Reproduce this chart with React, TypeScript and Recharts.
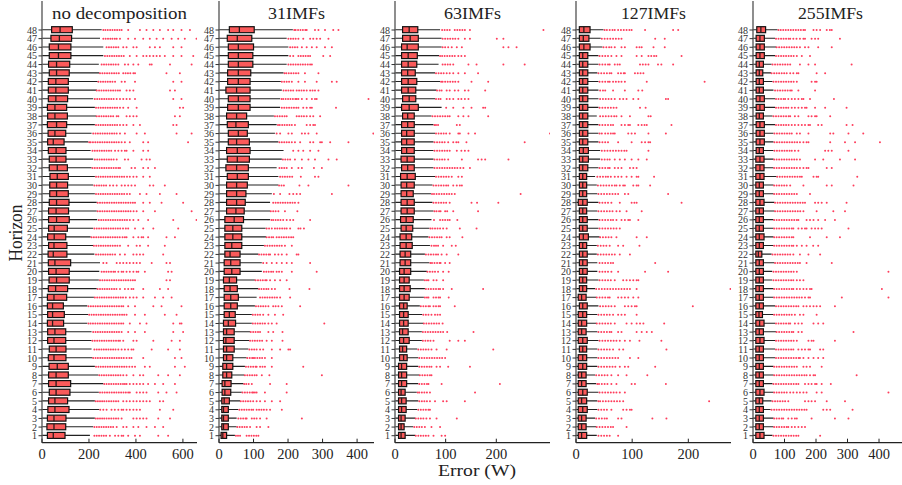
import { ComposedChart, Bar, Scatter, XAxis, YAxis } from 'recharts';

const SERIF = '"Liberation Serif", "Times New Roman", serif';

// horizons, listed top to bottom (48 down to 1); every per-row array below uses this order
const horizons = [
  48, 47, 46, 45, 44, 43, 42, 41, 40, 39, 38, 37, 36, 35, 34, 33,
  32, 31, 30, 29, 28, 27, 26, 25, 24, 23, 22, 21, 20, 19, 18, 17,
  16, 15, 14, 13, 12, 11, 10, 9, 8, 7, 6, 5, 4, 3, 2, 1,
];

// ---- no decomposition ----
const noDecQ1 = [41, 38, 31, 31, 28, 31, 27, 27, 27, 23, 24, 23, 26, 24, 27, 31, 31, 34, 33, 33, 31, 28, 28, 28, 24, 28, 26, 27, 28, 30, 27, 23, 23, 24, 23, 24, 24, 31, 27, 30, 28, 28, 31, 28, 25, 23, 21, 23];
const noDecMed = [77, 74, 70, 70, 62, 62, 59, 59, 59, 55, 55, 62, 55, 48, 60, 60, 65, 65, 62, 62, 62, 60, 62, 52, 52, 51, 48, 55, 60, 62, 58, 51, 45, 45, 45, 55, 51, 60, 51, 65, 60, 60, 60, 55, 55, 51, 51, 48];
const noDecQ3 = [129, 126, 123, 123, 118, 116, 112, 112, 109, 105, 108, 105, 101, 94, 102, 102, 108, 112, 109, 112, 115, 113, 116, 108, 101, 106, 106, 122, 116, 116, 109, 105, 91, 95, 92, 101, 101, 102, 102, 112, 112, 122, 119, 109, 115, 102, 101, 98];
const noDecHi = [254, 247, 261, 261, 242, 244, 237, 233, 218, 225, 230, 225, 211, 197, 207, 218, 211, 225, 218, 225, 233, 233, 235, 218, 207, 218, 223, 247, 244, 242, 233, 221, 193, 197, 193, 211, 211, 211, 215, 225, 240, 261, 242, 225, 244, 225, 218, 204];
const noDecOut = [
  [261, 270, 280, 290, 300, 310, 320, 330, 339, 367, 417, 445, 474, 502, 537, 559, 594, 630],
  [261, 271, 281, 291, 300, 310, 318, 332, 367, 396, 431, 459, 488, 516, 552, 580, 608, 658],
  [275, 285, 295, 305, 315, 325, 346, 360, 389, 403, 459, 481, 502, 559, 594],
  [268, 278, 288, 298, 308, 318, 328, 338, 348, 374, 403, 431, 445, 459, 474, 488, 502, 523, 559, 594, 644],
  [254, 264, 274, 284, 294, 304, 314, 325, 353, 367, 389, 410, 459, 467, 545, 637],
  [247, 257, 267, 277, 287, 297, 307, 317, 327, 346, 356, 366, 376, 389, 396, 530, 587],
  [240, 250, 260, 270, 280, 290, 300, 311, 339, 353, 396, 559, 594],
  [233, 243, 253, 263, 273, 283, 293, 303, 313, 323, 332, 360, 374, 389, 545, 566],
  [225, 235, 245, 255, 265, 275, 285, 295, 305, 318, 332, 346, 360, 374, 396, 559, 594],
  [230, 240, 250, 260, 270, 280, 290, 300, 310, 320, 332, 346, 367, 403, 587, 601],
  [233, 243, 253, 263, 273, 283, 293, 303, 318, 325, 360, 374, 389, 403, 566, 587],
  [230, 240, 250, 260, 270, 280, 290, 300, 310, 320, 332, 346, 360, 389, 417, 559, 573],
  [218, 228, 238, 248, 258, 268, 278, 288, 298, 308, 318, 332, 353, 403, 438, 573, 637],
  [201, 207, 217, 227, 237, 247, 257, 267, 277, 287, 297, 307, 317, 327, 339, 353, 374, 431, 452, 622],
  [215, 225, 235, 245, 255, 265, 275, 285, 295, 311, 325, 339, 353, 360, 389, 431, 452],
  [225, 235, 245, 255, 265, 275, 285, 295, 305, 318, 353, 367, 424, 445, 459],
  [215, 225, 235, 245, 255, 265, 275, 285, 295, 305, 315, 325, 332, 381, 396, 431, 452, 481],
  [230, 240, 250, 260, 270, 280, 290, 300, 310, 320, 330, 340, 350, 362, 374, 389, 403, 431, 459],
  [223, 233, 243, 253, 263, 273, 289, 303, 318, 339, 353, 367, 381, 396, 459, 474, 523],
  [230, 240, 250, 260, 270, 280, 290, 300, 310, 320, 330, 340, 350, 362, 374, 417, 445, 502, 573],
  [237, 247, 257, 267, 277, 287, 297, 307, 317, 327, 337, 347, 357, 367, 377, 387, 396, 431, 459, 509, 601],
  [237, 247, 257, 267, 277, 287, 297, 307, 317, 327, 337, 347, 357, 367, 377, 390, 403, 431, 481, 637],
  [242, 252, 262, 272, 282, 292, 302, 312, 322, 332, 342, 352, 362, 374, 389, 410, 452, 559, 658],
  [223, 233, 243, 253, 263, 273, 283, 293, 303, 313, 323, 333, 345, 357, 367, 396, 431, 474, 580],
  [211, 221, 231, 241, 251, 261, 271, 281, 291, 301, 311, 321, 331, 343, 353, 360, 389, 410, 424, 431, 452, 530, 566],
  [221, 231, 241, 251, 261, 271, 281, 291, 301, 311, 321, 332, 367, 403, 417, 452, 523],
  [230, 240, 250, 260, 270, 280, 290, 300, 311, 332, 353, 389, 403, 417, 431, 516],
  [261, 275, 318, 332, 346, 360, 374, 389, 403, 417, 467, 530, 545],
  [254, 264, 274, 284, 294, 304, 311, 325, 339, 346, 360, 374, 389, 403, 410, 438, 537, 552],
  [247, 257, 267, 277, 287, 297, 307, 317, 327, 337, 347, 357, 367, 377, 387, 396, 530, 545],
  [237, 247, 257, 267, 277, 287, 297, 307, 317, 332, 353, 367, 381, 389, 431, 502, 537],
  [225, 235, 245, 255, 265, 275, 285, 295, 305, 315, 325, 335, 345, 357, 374, 389, 403, 431, 481, 516, 552],
  [198, 208, 218, 228, 238, 248, 258, 268, 278, 288, 298, 308, 318, 328, 338, 346, 367, 396, 474, 509, 594],
  [201, 211, 221, 231, 241, 251, 261, 271, 281, 291, 301, 311, 321, 331, 341, 350, 360, 396, 438, 523, 573],
  [198, 207, 217, 227, 237, 247, 257, 267, 277, 287, 297, 307, 317, 327, 337, 346, 374, 417, 445, 559, 587, 594],
  [218, 228, 238, 248, 258, 268, 278, 288, 298, 308, 318, 328, 339, 367, 396, 438, 559, 601],
  [215, 225, 235, 245, 255, 265, 275, 285, 295, 305, 315, 325, 332, 346, 389, 403, 474, 552, 587],
  [223, 233, 243, 253, 263, 273, 283, 293, 303, 313, 325, 339, 353, 367, 381, 389, 467, 537, 587],
  [218, 228, 238, 248, 258, 268, 278, 288, 298, 308, 318, 328, 338, 348, 360, 372, 381, 431, 566, 594],
  [230, 240, 250, 260, 270, 280, 290, 300, 310, 320, 330, 340, 350, 360, 372, 384, 396, 438, 459, 566, 608],
  [244, 254, 264, 274, 284, 294, 304, 314, 324, 334, 346, 360, 389, 417, 431, 495, 537, 587],
  [265, 275, 285, 295, 305, 315, 325, 335, 345, 353, 360, 374, 389, 403, 417, 431, 452, 481, 516, 566],
  [247, 257, 267, 277, 287, 297, 307, 317, 327, 337, 347, 357, 367, 374, 403, 417, 431, 445, 495, 530, 573],
  [229, 238, 247, 256, 265, 275, 285, 295, 305, 315, 325, 346, 360, 374, 389, 403, 417, 431, 445, 459, 502, 516],
  [248, 261, 275, 296, 310, 325, 339, 346, 360, 374, 389, 403, 417, 502, 559],
  [229, 238, 247, 256, 265, 275, 285, 295, 305, 315, 325, 339, 389, 403, 417, 431, 445, 495, 545],
  [223, 233, 243, 253, 263, 273, 283, 293, 303, 318, 346, 360, 389, 410, 445, 481, 516],
  [223, 233, 243, 253, 263, 273, 289, 311, 325, 339, 346, 367, 396, 417, 495, 537],
];

// ---- 31 IMFs ----
const imf31Q1 = [30, 24, 27, 27, 27, 25, 25, 20, 27, 25, 22, 24, 27, 27, 22, 24, 20, 24, 22, 22, 22, 22, 17, 17, 17, 17, 17, 15, 15, 13, 15, 15, 15, 15, 13, 13, 13, 13, 13, 11, 11, 9, 9, 8, 8, 8, 8, 6];
const imf31Med = [59, 53, 56, 56, 56, 56, 56, 51, 56, 56, 51, 49, 56, 51, 53, 53, 51, 53, 51, 51, 51, 49, 44, 40, 40, 37, 32, 34, 37, 30, 32, 34, 34, 30, 27, 22, 20, 22, 22, 22, 22, 17, 17, 15, 13, 13, 13, 11];
const imf31Q3 = [102, 95, 100, 98, 98, 92, 90, 90, 90, 90, 80, 85, 82, 88, 90, 88, 85, 85, 82, 78, 76, 73, 71, 66, 66, 66, 61, 61, 61, 51, 53, 56, 53, 47, 48, 44, 44, 44, 40, 40, 37, 35, 34, 30, 27, 27, 27, 22];
const imf31Hi = [214, 196, 201, 201, 196, 187, 179, 182, 177, 177, 159, 167, 162, 172, 187, 182, 167, 172, 172, 153, 148, 148, 148, 135, 136, 130, 114, 124, 124, 104, 114, 109, 104, 95, 95, 90, 88, 85, 80, 75, 73, 71, 66, 61, 56, 51, 51, 46];
const imf31Out = [
  [218, 222, 229, 236, 243, 250, 254, 278, 288, 307, 331, 346],
  [201, 208, 215, 222, 230, 244, 264, 273, 283, 293, 317],
  [206, 213, 220, 227, 240, 254, 269, 283, 307, 327],
  [206, 215, 230, 237, 244, 251, 258, 264, 302, 322],
  [201, 208, 215, 222, 229, 236, 243, 250, 257, 264, 269],
  [190, 195, 202, 209, 216, 223, 230, 249, 288],
  [182, 189, 196, 203, 211, 230, 249, 283, 327, 341],
  [187, 194, 201, 208, 215, 225, 232, 239, 246, 254, 264, 271, 278, 288],
  [181, 186, 193, 200, 207, 214, 221, 225, 230, 240, 254, 269, 278, 283, 433],
  [182, 189, 196, 203, 210, 217, 224, 230, 244, 254, 264, 269, 339],
  [162, 169, 176, 183, 190, 196, 225, 232, 239, 246, 254, 264, 273, 293],
  [171, 176, 183, 190, 197, 204, 211, 220, 254, 264, 273, 278],
  [167, 177, 201, 211, 240, 249, 259, 283, 447],
  [175, 182, 189, 196, 203, 211, 220, 235, 264, 273, 293, 298, 322, 375],
  [215, 230, 244, 264, 288],
  [185, 192, 199, 206, 220, 240, 259, 278, 317, 341],
  [175, 182, 189, 196, 211, 230, 240, 275, 298],
  [177, 184, 191, 198, 205, 212, 237, 278, 288],
  [174, 181, 188, 233, 259, 375],
  [159, 177, 204, 215, 225, 235, 327],
  [157, 164, 171, 178, 185, 192, 199, 206, 213, 220, 230],
  [150, 157, 164, 172, 191, 227],
  [152, 157, 164, 171, 178, 186, 196, 206, 215, 264],
  [138, 145, 153, 162, 169, 176, 183, 190, 196, 206, 230, 236, 246],
  [138, 145, 152, 157, 167, 174, 181, 188, 195, 202, 209, 215],
  [133, 140, 147, 154, 161, 168, 175, 182, 191, 211],
  [116, 123, 130, 137, 144, 148, 162, 172, 182, 196, 225, 230],
  [128, 138, 153, 167, 182, 196, 211, 264],
  [130, 137, 144, 151, 157, 167, 174, 182, 211, 283],
  [106, 113, 120, 127, 134, 138, 148, 162, 177, 196],
  [116, 123, 130, 137, 143, 153, 162, 204, 262],
  [119, 126, 133, 140, 147, 154, 161, 168, 177, 206],
  [107, 114, 121, 128, 135, 143, 157, 164, 172, 182, 235],
  [98, 105, 112, 119, 128, 143, 162, 186],
  [98, 105, 112, 119, 126, 133, 143, 153, 167, 305],
  [92, 99, 106, 113, 119, 143, 157, 184],
  [90, 97, 104, 111, 118, 125, 138, 153, 184],
  [88, 95, 102, 109, 119, 128, 153, 177, 201, 206],
  [82, 89, 96, 99, 104, 111, 118, 125, 133, 153],
  [78, 85, 92, 99, 106, 109, 119, 126, 133, 153, 244],
  [75, 82, 89, 96, 103, 109, 124, 146, 298],
  [73, 79, 86, 95, 148, 196],
  [68, 75, 82, 89, 96, 99, 104, 109, 133, 196],
  [63, 70, 77, 84, 91, 99, 109, 119, 133, 153, 177],
  [59, 66, 73, 80, 87, 94, 99, 109, 116, 123, 130, 138, 148, 182],
  [56, 63, 70, 77, 80, 95, 102, 109, 119, 138, 240],
  [53, 60, 67, 74, 81, 90, 109, 119, 143],
  [49, 55, 61, 80, 87, 94, 101, 108, 114],
];

// ---- 63 IMFs ----
const imf63Q1 = [15, 15, 13, 13, 13, 13, 13, 13, 15, 13, 15, 13, 13, 13, 13, 12, 13, 11, 12, 12, 12, 12, 11, 12, 10, 10, 10, 10, 9, 9, 9, 9, 9, 9, 9, 9, 9, 9, 9, 7, 7, 7, 7, 7, 7, 7, 7, 7];
const imf63Med = [28, 30, 24, 26, 26, 25, 26, 26, 28, 28, 25, 25, 23, 23, 23, 24, 25, 24, 23, 23, 24, 24, 22, 22, 22, 22, 20, 20, 18, 18, 18, 18, 17, 17, 17, 15, 17, 15, 17, 13, 13, 13, 12, 13, 13, 12, 12, 12];
const imf63Q3 = [45, 46, 46, 44, 43, 40, 43, 41, 41, 46, 38, 38, 38, 38, 38, 38, 38, 40, 38, 36, 38, 38, 36, 35, 33, 34, 31, 31, 31, 28, 30, 28, 24, 26, 26, 26, 28, 23, 24, 23, 23, 23, 20, 22, 22, 20, 18, 20];
const imf63Hi = [89, 92, 92, 87, 86, 79, 89, 82, 79, 92, 72, 76, 79, 76, 76, 76, 76, 79, 74, 71, 74, 76, 72, 68, 66, 69, 59, 68, 63, 57, 59, 57, 49, 54, 56, 53, 53, 44, 46, 46, 48, 46, 43, 46, 44, 40, 36, 40];
const imf63Out = [
  [93, 98, 103, 108, 118, 123, 128, 133, 138, 148, 293],
  [94, 99, 104, 109, 114, 119, 125, 138, 148, 201, 214],
  [94, 99, 105, 112, 122, 132, 214, 224, 240],
  [89, 93, 98, 103, 108, 113, 118, 125, 131, 138],
  [94, 99, 104, 109, 115, 145, 161, 214, 256],
  [81, 86, 91, 96, 102, 108, 115, 125, 138, 164],
  [91, 94, 99, 104, 109, 114, 119, 125, 151, 184],
  [83, 88, 92, 102, 108, 118, 125, 138, 145, 178],
  [81, 86, 90, 102, 108, 115, 125, 131, 138, 145],
  [101, 115, 135, 151, 174, 178],
  [74, 79, 84, 89, 94, 99, 104, 108, 125, 135, 145, 184],
  [78, 81, 85, 122, 128],
  [81, 86, 91, 96, 101, 108, 125, 128, 145, 158, 306],
  [78, 83, 88, 93, 98, 105, 115, 121, 125, 141, 256],
  [78, 83, 88, 93, 98, 103, 108, 122, 131, 138, 145],
  [78, 83, 88, 93, 98, 105, 132, 164, 171, 178, 224],
  [78, 83, 88, 93, 98, 103, 108, 113, 118, 123, 129, 135, 148],
  [81, 86, 91, 96, 101, 106, 112, 125, 132],
  [76, 81, 86, 91, 96, 101, 105, 115, 122, 128, 132],
  [73, 77, 82, 87, 92, 97, 102, 107, 112, 118, 248],
  [76, 81, 86, 91, 96, 101, 108, 151, 162, 204],
  [78, 82, 87, 90, 99, 103, 115, 164],
  [77, 89, 94, 99, 104, 108, 123],
  [70, 74, 79, 84, 89, 95, 102, 128, 161],
  [68, 73, 78, 83, 88, 92, 102, 108, 133],
  [72, 77, 81, 85, 95, 112, 120],
  [61, 66, 71, 76, 81, 85, 92, 102, 125],
  [70, 73, 78, 83, 88, 90, 99, 108],
  [64, 69, 74, 79, 85, 95, 106],
  [59, 63, 66, 76, 82, 95],
  [61, 66, 71, 76, 81, 86, 89, 95, 112, 174],
  [59, 63, 66, 76, 81, 86, 89, 106],
  [51, 56, 61, 66, 69, 76, 81, 86, 89, 118],
  [56, 61, 66, 72, 79, 84, 89],
  [57, 62, 67, 72, 77, 82, 87, 94],
  [55, 60, 65, 70, 75, 80, 85, 90, 95, 103, 155],
  [55, 60, 65, 70, 76, 108, 125, 138],
  [46, 51, 56, 61, 66, 72, 82, 102, 194],
  [48, 53, 58, 63, 68, 73, 78, 83, 88, 93, 99],
  [48, 53, 58, 63, 68, 72, 82, 89, 105, 148],
  [49, 54, 59, 64, 69, 72],
  [48, 53, 58, 63, 66, 92, 207],
  [45, 48, 53, 58, 63, 69, 158],
  [48, 53, 58, 63, 69, 79, 95, 102, 138],
  [46, 51, 56, 61, 66, 69],
  [41, 46, 51, 56, 62, 69, 82, 122],
  [38, 43, 48, 53, 59, 72, 89],
  [41, 46, 51, 56, 61, 66, 76, 92, 99],
];

// ---- 127 IMFs ----
const imf127Q1 = [6, 6, 6, 6, 6, 6, 6, 6, 6, 6, 6, 6, 6, 6, 6, 6, 6, 6, 6, 6, 4, 6, 6, 6, 6, 6, 6, 6, 6, 6, 6, 4, 6, 4, 4, 4, 4, 6, 4, 4, 4, 4, 4, 4, 4, 4, 4, 4];
const imf127Med = [14, 13, 14, 12, 12, 12, 12, 12, 12, 12, 12, 12, 12, 12, 13, 12, 12, 12, 12, 12, 12, 12, 12, 12, 13, 12, 12, 12, 12, 12, 12, 10, 12, 12, 10, 10, 12, 12, 12, 12, 10, 10, 12, 10, 12, 10, 10, 10];
const imf127Q3 = [25, 23, 25, 21, 21, 21, 21, 21, 21, 21, 21, 21, 21, 21, 22, 22, 21, 19, 19, 19, 20, 19, 20, 20, 22, 19, 20, 20, 20, 19, 19, 18, 20, 19, 19, 18, 20, 19, 19, 19, 18, 18, 20, 19, 20, 18, 18, 19];
const imf127Hi = [49, 44, 47, 40, 40, 38, 40, 40, 40, 40, 37, 40, 40, 40, 43, 43, 40, 34, 37, 38, 40, 38, 40, 40, 42, 37, 37, 38, 38, 40, 34, 36, 40, 38, 36, 38, 40, 38, 38, 38, 34, 36, 40, 38, 38, 34, 36, 37];
const imf127Out = [
  [51, 55, 60, 65, 69, 75, 80, 85, 90, 95, 99, 123, 173, 182],
  [46, 51, 56, 61, 66, 71, 76, 81, 141, 158],
  [49, 54, 59, 63, 69, 81, 87, 108, 113, 117, 138, 158],
  [42, 47, 52, 57, 63, 72, 81, 108, 117, 129, 134, 139, 143, 188],
  [42, 47, 52, 57, 60, 69, 74, 78, 114, 119, 124, 129, 146, 152, 173],
  [40, 45, 50, 55, 60, 63, 75, 80, 85, 87, 105, 110, 115, 120],
  [42, 47, 52, 57, 60, 66, 71, 76, 81, 87, 126, 229],
  [43, 48, 52, 66, 87, 111, 118],
  [43, 48, 53, 58, 63, 69, 78, 84, 90, 102, 111, 160, 164],
  [42, 47, 52, 57, 62, 67, 72, 114, 124],
  [43, 48, 53, 58, 63, 68, 72, 81, 96, 129, 133],
  [42, 47, 52, 57, 62, 66, 81, 87, 93, 96, 111, 117, 122, 126, 170],
  [42, 46, 52, 57, 62, 66, 69, 93, 99, 105, 129, 160],
  [42, 47, 52, 57, 75, 99, 117, 123, 129, 132],
  [46, 51, 56, 61, 66, 71, 76, 81, 86, 90, 129],
  [46, 51, 56, 60, 69, 78, 87, 99, 111, 126],
  [42, 47, 52, 57, 60, 69, 75, 81, 96, 102, 108],
  [38, 43, 48, 53, 57, 62, 69, 75, 81, 90, 99, 108, 111, 139],
  [39, 44, 49, 54, 59, 64, 69, 72, 78, 84, 87, 102, 108, 111, 132],
  [40, 45, 50, 55, 60, 65, 70, 75, 87, 93, 164],
  [42, 47, 52, 57, 63, 78, 99, 104, 108, 188],
  [40, 45, 50, 55, 60, 65, 72, 78, 90, 117],
  [42, 47, 52, 57, 62, 66, 72, 81, 87, 93, 96, 111],
  [42, 47, 52, 57, 62, 67, 72, 78],
  [43, 48, 53, 58, 63, 72, 108, 126],
  [39, 44, 49, 54, 60, 75, 84, 113],
  [39, 44, 49, 54, 59, 64, 69, 78, 96],
  [42, 47, 52, 57, 62, 66, 141],
  [42, 47, 52, 57, 63, 75, 123, 164],
  [42, 47, 52, 57, 62, 69, 84, 90, 96, 102, 108, 111],
  [36, 41, 46, 51, 56, 61, 66, 71, 76, 81, 86, 91, 96, 108, 275],
  [37, 42, 47, 52, 57, 60, 75, 81, 87, 93, 102, 111],
  [43, 48, 53, 58, 63, 69, 87, 93, 99, 105, 108, 208],
  [40, 45, 50, 55, 60, 66, 75, 81, 87, 108],
  [37, 42, 47, 52, 57, 62, 69, 90, 99, 108, 114, 120, 157],
  [40, 45, 50, 55, 60, 63, 75, 81, 108, 117, 126, 135],
  [42, 47, 52, 57, 62, 67, 72, 78, 87, 96, 113, 152],
  [40, 45, 50, 55, 60, 66, 77, 84, 161],
  [40, 45, 50, 55, 60, 65, 70, 75, 96, 111],
  [40, 45, 50, 55, 60, 65, 70, 78, 87, 93, 141],
  [36, 41, 46, 51, 56, 63, 75, 90, 127],
  [38, 41, 46, 51, 56, 63, 72, 99, 105, 160],
  [42, 47, 52, 57, 62, 67, 72, 78, 87],
  [40, 43, 48, 53, 58, 63, 68, 73, 78, 84, 237],
  [40, 45, 50, 55, 63, 84, 90, 96, 99],
  [36, 41, 46, 51, 55, 75, 81, 136, 161],
  [37, 42, 47, 52, 57, 62, 66, 90],
  [40, 45, 50, 55, 60, 75],
];

// ---- 255 IMFs ----
const imf255Q1 = [12, 10, 10, 10, 10, 10, 10, 10, 10, 10, 10, 10, 10, 10, 10, 9, 9, 9, 9, 9, 9, 9, 9, 9, 9, 9, 9, 9, 9, 9, 9, 9, 9, 9, 9, 9, 9, 9, 9, 9, 9, 9, 9, 9, 9, 9, 9, 9];
const imf255Med = [25, 22, 22, 22, 20, 20, 20, 20, 22, 22, 20, 22, 22, 22, 20, 22, 22, 22, 20, 20, 22, 20, 20, 20, 20, 20, 17, 20, 20, 20, 20, 20, 20, 19, 21, 20, 22, 20, 20, 20, 20, 20, 22, 20, 20, 20, 20, 22];
const imf255Q3 = [40, 36, 36, 36, 33, 31, 33, 33, 36, 36, 33, 36, 36, 36, 33, 35, 35, 35, 33, 33, 35, 33, 33, 33, 35, 33, 28, 33, 33, 33, 33, 33, 33, 30, 35, 33, 35, 33, 33, 33, 33, 33, 35, 31, 33, 33, 33, 35];
const imf255Hi = [78, 70, 73, 70, 59, 57, 62, 65, 70, 70, 62, 70, 65, 65, 65, 65, 65, 75, 65, 65, 68, 68, 65, 65, 65, 65, 59, 68, 61, 61, 65, 65, 70, 65, 70, 73, 70, 70, 70, 65, 65, 62, 65, 59, 56, 65, 65, 62];
const imf255Out = [
  [81, 88, 96, 104, 112, 120, 128, 136, 144, 152, 160, 165, 192, 202, 213, 234, 244, 250],
  [73, 81, 89, 97, 105, 113, 118, 128, 138, 149, 160, 165, 186, 197, 207, 276],
  [75, 83, 91, 99, 107, 115, 123, 131, 139, 149, 165, 176, 207, 250],
  [73, 81, 89, 97, 105, 113, 121, 129, 139, 155, 181],
  [62, 70, 78, 86, 94, 102, 110, 118, 149, 176, 197, 313],
  [59, 67, 75, 83, 91, 99, 107, 118, 128, 139, 144, 202, 229],
  [65, 73, 81, 89, 97, 105, 113, 121, 129, 139, 186, 197, 202],
  [70, 78, 86, 94, 102, 110, 118, 123, 144, 197],
  [73, 81, 89, 97, 102, 112, 123, 133, 144, 155, 160, 181, 257],
  [73, 81, 89, 97, 105, 112, 123, 133, 144, 155, 165, 170, 197, 229, 297],
  [65, 73, 81, 89, 97, 105, 113, 118, 133, 144, 176, 186, 197, 202, 245],
  [73, 81, 89, 97, 105, 113, 123, 133, 144, 155, 165, 176, 181, 207, 218, 297, 316],
  [68, 76, 84, 92, 100, 108, 116, 123, 139, 149, 176, 245, 255, 303, 350],
  [68, 76, 84, 92, 100, 108, 116, 124, 132, 140, 149, 160, 170, 176, 245, 292, 324, 403],
  [68, 76, 84, 92, 100, 108, 116, 123, 133, 144, 229, 239, 250, 303],
  [67, 75, 83, 91, 99, 107, 115, 123, 131, 139, 149, 197, 223, 276, 324],
  [67, 75, 83, 91, 99, 107, 115, 123, 131, 139, 149, 160, 170, 176, 234, 250],
  [77, 85, 93, 101, 109, 117, 125, 133, 141, 149, 155, 192, 202, 207, 331],
  [67, 75, 83, 91, 99, 107, 118, 160, 234, 250, 319],
  [67, 75, 83, 91, 99, 107, 115, 123, 131, 139, 181],
  [70, 78, 86, 94, 102, 110, 118, 126, 134, 142, 150, 158, 165, 197, 207, 218, 234, 297],
  [70, 78, 86, 94, 102, 110, 118, 126, 134, 142, 150, 160, 202, 255, 292],
  [67, 75, 83, 91, 99, 107, 115, 123, 131, 139, 144, 170, 181, 192, 207, 229, 260],
  [67, 75, 83, 91, 99, 107, 115, 123, 128, 144, 155, 165, 170, 186, 197, 207, 218, 303],
  [67, 75, 83, 91, 99, 107, 115, 123, 128, 181, 234, 276],
  [67, 75, 83, 91, 99, 107, 115, 123, 128, 139, 155, 170, 191, 207],
  [62, 70, 78, 86, 94, 102, 110, 118, 128, 149, 176, 213],
  [70, 78, 86, 94, 102, 110, 118, 126, 134, 142, 149, 170, 250],
  [65, 73, 81, 89, 97, 105, 113, 121, 129, 139, 430],
  [65, 73, 81, 89, 97, 105, 113, 121, 128, 139, 149, 160],
  [67, 75, 83, 91, 99, 107, 115, 123, 128, 139, 149, 160, 170, 181, 186, 409],
  [67, 75, 83, 91, 99, 107, 115, 123, 131, 139, 147, 155, 165, 176, 181, 282, 430],
  [73, 81, 89, 97, 105, 113, 121, 129, 137, 144, 160, 170, 181, 192, 202, 213, 260],
  [67, 75, 83, 91, 99, 107, 115, 123, 133, 149, 160, 202],
  [73, 81, 89, 97, 105, 113, 118, 133, 144, 155, 192, 207, 223],
  [75, 83, 91, 99, 107, 115, 123, 128, 144, 155, 319],
  [73, 81, 89, 97, 105, 113, 121, 129, 139, 176, 186, 192, 260],
  [73, 81, 89, 97, 105, 113, 121, 128, 144, 155, 165, 176, 181, 213, 223],
  [73, 81, 89, 97, 105, 113, 121, 129, 137, 145, 149, 160, 176, 192, 207, 223],
  [67, 75, 83, 91, 99, 107, 115, 123, 131, 139, 160, 170, 181, 218],
  [67, 75, 83, 91, 99, 107, 115, 123, 131, 139, 147, 155, 163, 170, 181, 192, 197, 329],
  [65, 73, 81, 89, 97, 105, 113, 121, 129, 137, 144, 165, 176, 186, 197, 202, 218, 247],
  [67, 75, 83, 91, 99, 107, 118, 128, 139, 149, 160, 170, 202, 218, 430],
  [62, 70, 78, 86, 94, 102, 112, 165, 176, 186, 197, 234, 292],
  [59, 67, 75, 83, 91, 99, 107, 115, 123, 131, 139, 147, 155, 163, 170, 223, 234, 245, 316],
  [67, 75, 83, 91, 96, 112, 123, 133, 139, 186, 260, 303],
  [67, 75, 83, 91, 99, 107, 112, 123, 133, 144, 155, 165],
  [65, 73, 81, 89, 97, 105, 113, 121, 129, 137, 144, 213],
];

const PLOT_W = 155;
const AXIS_W = 40;
const PLOT_TOP = 1;
const PLOT_BOTTOM = 442.7;
const H = 485;

const panels = [
  { title: 'no decomposition', titleW: 135, spine: 42, xMax: 660, ticks: [0, 200, 400, 600], lo: 1, q1: noDecQ1, med: noDecMed, q3: noDecQ3, hi: noDecHi, out: noDecOut },
  { title: '31IMFs', titleW: 57, spine: 219, xMax: 449, ticks: [0, 100, 200, 300, 400], lo: 0.5, q1: imf31Q1, med: imf31Med, q3: imf31Q3, hi: imf31Hi, out: imf31Out },
  { title: '63IMFs', titleW: 57, spine: 395, xMax: 306, ticks: [0, 100, 200], lo: 0.5, q1: imf63Q1, med: imf63Med, q3: imf63Q3, hi: imf63Hi, out: imf63Out },
  { title: '127IMFs', titleW: 65, spine: 576, xMax: 276, ticks: [0, 100, 200], lo: 0.5, q1: imf127Q1, med: imf127Med, q3: imf127Q3, hi: imf127Hi, out: imf127Out },
  { title: '255IMFs', titleW: 65, spine: 753, xMax: 492, ticks: [0, 100, 200, 300, 400], lo: 0.5, q1: imf255Q1, med: imf255Med, q3: imf255Q3, hi: imf255Hi, out: imf255Out },
];

// box + whiskers, drawn inside the [lo, hi] range bar that recharts positions for us
function BoxShape(props: any) {
  const { x, y, width, height, payload } = props;
  if (!payload || width == null) return null;
  const k = width / (payload.hi - payload.lo);
  const px = (v: number) => x + (v - payload.lo) * k;
  const cy = y + height / 2;
  return (
    <g>
      <line x1={px(payload.lo)} x2={px(payload.q1)} y1={cy} y2={cy} stroke="#222" strokeWidth={1.1} />
      <line x1={px(payload.q3)} x2={px(payload.hi)} y1={cy} y2={cy} stroke="#222" strokeWidth={1.1} />
      <rect x={px(payload.q1)} y={y} width={px(payload.q3) - px(payload.q1)} height={height}
        fill="#fa5a5a" stroke="#111" strokeWidth={1.2} />
      <line x1={px(payload.med)} x2={px(payload.med)} y1={y} y2={y + height} stroke="#2a1a1a" strokeWidth={1.3} />
    </g>
  );
}

const OutlierDot = (p: any) => <circle cx={p.cx} cy={p.cy} r={1} fill="#ff3d5c" />;

function XTick(props: any) {
  const { x, y, payload } = props;
  return (
    <g>
      <line x1={x} x2={x} y1={y} y2={y - 4} stroke="#222" strokeWidth={1} />
      <text x={x} y={y + 16.6} textAnchor="middle" fontSize={14.5} fontFamily={SERIF} fill="#222">
        {payload.value}
      </text>
    </g>
  );
}

function Panel({ p }: { p: (typeof panels)[number] }) {
  const rows = horizons.map((h, i) => ({
    h, range: [p.lo, p.hi[i]], lo: p.lo, q1: p.q1[i], med: p.med[i], q3: p.q3[i], hi: p.hi[i],
  }));
  const points = horizons.flatMap((h, i) => p.out[i].map((v) => ({ h, v })));
  return (
    <div style={{ position: 'absolute', left: p.spine - AXIS_W, top: 0 }}>
      <ComposedChart layout="vertical" width={AXIS_W + PLOT_W} height={H} data={rows}
        margin={{ top: PLOT_TOP, right: 0, bottom: H - PLOT_BOTTOM - 30, left: 0 }}>
        <XAxis type="number" domain={[0, p.xMax]} allowDataOverflow ticks={p.ticks} interval={0}
          height={30} tickSize={0} tickMargin={0} tickLine={false} tick={<XTick />}
          axisLine={{ stroke: '#222', strokeWidth: 1.2 }} />
        <YAxis type="number" dataKey="h" reversed domain={[0.19, 51.36]} allowDataOverflow ticks={horizons}
          interval={0} width={AXIS_W} tickSize={3.5} tickMargin={1.5}
          tickLine={{ stroke: '#333' }} axisLine={{ stroke: '#444', strokeWidth: 1.2 }}
          tick={{ fontSize: 10, fill: '#333', fontFamily: SERIF }} />
        <Bar dataKey="range" barSize={6} shape={BoxShape} isAnimationActive={false} />
        <Scatter data={points} dataKey="v" shape={OutlierDot} isAnimationActive={false} />
      </ComposedChart>
    </div>
  );
}

export default function App() {
  return (
    <div style={{ position: 'absolute', left: 0, top: 0, width: 902, height: H, overflow: 'hidden', background: '#fff' }}>
      {panels.map((p) => <Panel key={p.title} p={p} />)}
      <svg width={902} height={H} style={{ position: 'absolute', left: 0, top: 0, pointerEvents: 'none' }}>
        {panels.map((p) => (
          <text key={p.title} x={p.spine + PLOT_W / 2} y={18.5} textAnchor="middle" fontSize={16.5}
            fontFamily={SERIF} fill="#222" textLength={p.titleW} lengthAdjust="spacingAndGlyphs">
            {p.title}
          </text>
        ))}
        <text transform="translate(22,233) rotate(-90)" textAnchor="middle" fontSize={18} fontFamily={SERIF}
          fill="#222" textLength={57} lengthAdjust="spacingAndGlyphs">Horizon</text>
        <text x={477} y={476} textAnchor="middle" fontSize={16} fontFamily={SERIF} fill="#222"
          textLength={78} lengthAdjust="spacingAndGlyphs">Error (W)</text>
      </svg>
    </div>
  );
}
